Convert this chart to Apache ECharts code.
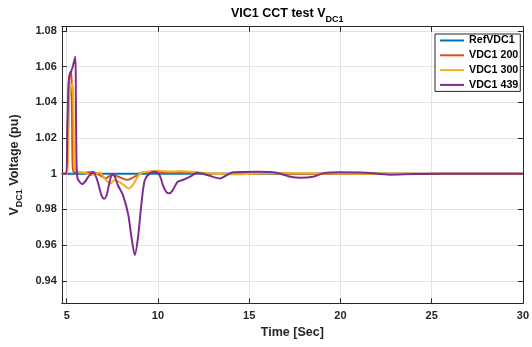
<!DOCTYPE html>
<html>
<head>
<meta charset="utf-8">
<script src="https://cdn.jsdelivr.net/npm/echarts@6/dist/echarts.min.js"></script>
<style>
  html, body { margin: 0; padding: 0; background: #fff; }
  #main { width: 532px; height: 347px; }
</style>
</head>
<body>
<div id="main"></div>
<script>
// series names, same order as the legend
const seriesNames = ["RefVDC1", "VDC1 200", "VDC1 300", "VDC1 439"];
const seriesColors = ["#0072BD", "#D95319", "#EDB120", "#7E2F8E"];

// time [s] and voltage [pu] for each trace
const tRef = [4.73, 10, 20, 30];
const vRef = [1, 1, 1, 1];

const t200 = [4.73, 5.0, 5.05, 5.12, 5.2, 5.26, 5.29, 5.32, 5.38, 5.6, 6.0, 6.4, 6.8, 7.15, 7.45, 7.8, 8.3, 8.75,
  9.1, 9.8, 10.5, 11.5, 12.5, 14, 16, 18, 20, 22, 25, 30];
const v200 = [1, 1, 1.025, 1.052, 1.057, 1.054, 1.03, 1.006, 1.001, 1.0008, 1.0006, 1.001, 0.9993, 0.9975, 0.9993,
  0.9985, 0.9966, 0.9985, 1.0006, 1.0008, 1.0006, 1.0005, 1.0002, 1.0, 1.0003, 1.0, 1.0001, 1.0, 1.0, 1.0];

const t300 = [4.73, 5.0, 5.07, 5.14, 5.22, 5.3, 5.35, 5.39, 5.44, 5.6, 6.0, 6.35, 6.8, 7.1, 7.42, 7.6, 7.87, 8.15,
  8.41, 8.68, 9.03, 9.5, 10.0, 10.6, 11.2, 12.0, 12.8, 13.5, 14.5, 15.5, 17, 19, 21, 23, 26, 30];
const v300 = [1, 1, 1.01, 1.04, 1.048, 1.05, 1.046, 1.02, 1.003, 1.001, 1.0005, 0.9993, 1.0005, 0.997, 0.9946,
  0.9963, 0.9955, 0.9935, 0.9918, 0.9946, 1.0002, 1.0012, 1.0017, 1.0012, 1.0014, 1.001, 1.0002, 0.9998, 0.9997,
  1.0002, 1.0003, 1.0002, 1.0, 1.0, 1.0, 1.0];

const t439 = [4.73, 4.97, 5.03, 5.1, 5.16, 5.3, 5.47, 5.5, 5.53, 5.58, 5.7, 5.84, 6.0, 6.2, 6.45, 6.7, 6.9, 7.06,
  7.2, 7.33, 7.51, 7.65, 7.8, 8.1, 8.37, 8.55, 8.73, 8.91, 9.1, 9.28, 9.55, 9.82, 10.09, 10.27, 10.45, 10.63,
  10.81, 11.08, 11.43, 11.79, 12.15, 12.7, 13.42, 13.78, 14.14, 15.4, 16.5, 17.2, 17.8, 18.5, 19.05, 19.95,
  21.4, 22.7, 24, 25.5, 30];
const v439 = [1, 1, 1.025, 1.05, 1.055, 1.059, 1.0655, 1.045, 1.01, 0.998, 0.9955, 0.9942, 0.9955, 0.9985,
  1.0008, 0.9955, 0.988, 0.986, 0.9885, 0.9946, 0.9998, 0.998, 0.9937, 0.9875, 0.9771, 0.9643, 0.9545, 0.9647,
  0.9838, 0.9965, 1.0002, 1.0011, 0.9992, 0.9936, 0.9899, 0.989, 0.9908, 0.9955, 0.9968, 0.9985, 1.0006,
  0.9993, 0.9974, 0.9993, 1.0008, 1.0011, 1.0006, 0.9985, 0.9977, 0.9983, 1.0002, 1.0008, 1.0006, 0.9995,
  0.9998, 1.0, 1.0];

// tick positions
const xTicks = [5, 10, 15, 20, 25, 30];
const yTicks = [0.94, 0.96, 0.98, 1.0, 1.02, 1.04, 1.06, 1.08];

const times = [tRef, t200, t300, t439];
const volts = [vRef, v200, v300, v439];

const ink = "#262626";
const chart = echarts.init(document.getElementById("main"));

const boxAxis = {
  axisLine: { show: true, onZero: false, lineStyle: { color: ink, width: 1 } },
  axisTick: { show: true, inside: true, length: 5, lineStyle: { color: ink } },
  axisLabel: { show: false },
  splitLine: { show: false },
};

const option = {
  animation: false,
  backgroundColor: "#fff",
  title: {
    text: "{b|VIC1 CCT test V}{s|DC1}",
    left: 226,
    top: -1,
    textStyle: {
      rich: {
        b: { fontFamily: "Liberation Sans", fontWeight: "bold", fontSize: 12.5, color: "#000", lineHeight: 20 },
        s: { fontFamily: "Liberation Sans", fontWeight: "bold", fontSize: 9, color: "#000", lineHeight: 20, verticalAlign: "bottom" },
      },
    },
  },
  legend: {
    data: seriesNames,
    orient: "vertical",
    left: 435,
    top: 34,
    icon: "rect",
    itemWidth: 24,
    itemHeight: 2,
    itemGap: 3.8,
    padding: [1, 2, 1, 5],
    backgroundColor: "#fff",
    borderColor: ink,
    borderWidth: 1,
    textStyle: { fontFamily: "Liberation Sans", fontWeight: "bold", fontSize: 10.7, color: "#000" },
  },
  grid: { left: 58.3, right: 4.7, top: 26.7, bottom: 43.7 },
  xAxis: [
    {
      type: "value",
      min: 4.73,
      max: 30,
      position: "bottom",
      name: "Time [Sec]",
      nameLocation: "middle",
      nameGap: 22,
      nameTextStyle: { fontFamily: "Liberation Sans", fontWeight: "bold", fontSize: 12.5, color: ink },
      axisLine: { show: true, onZero: false, lineStyle: { color: ink, width: 1 } },
      axisTick: { show: true, inside: true, length: 5, customValues: xTicks, lineStyle: { color: ink } },
      axisLabel: {
        customValues: xTicks,
        margin: 7,
        fontFamily: "Liberation Sans",
        fontWeight: "bold",
        fontSize: 11,
        color: ink,
      },
      splitLine: { show: true, lineStyle: { color: "#e3e3e3", width: 1 } },
    },
    Object.assign({ type: "value", min: 4.73, max: 30, position: "top" }, boxAxis,
      { axisTick: { show: true, inside: true, length: 5, customValues: xTicks, lineStyle: { color: ink } } }),
  ],
  yAxis: [
    {
      type: "value",
      min: 0.9274,
      max: 1.0824,
      position: "left",
      name: "{b|V}{s|DC1}{b| Voltage (pu)}",
      nameLocation: "middle",
      nameGap: 29,
      nameTextStyle: {
        rich: {
          b: { fontFamily: "Liberation Sans", fontWeight: "bold", fontSize: 12.5, color: ink, lineHeight: 20 },
          s: { fontFamily: "Liberation Sans", fontWeight: "bold", fontSize: 9, color: ink, lineHeight: 20, verticalAlign: "bottom" },
        },
      },
      axisLine: { show: true, onZero: false, lineStyle: { color: ink, width: 1 } },
      axisTick: { show: true, inside: true, length: 5, customValues: yTicks, lineStyle: { color: ink } },
      axisLabel: {
        customValues: yTicks,
        margin: 5,
        fontFamily: "Liberation Sans",
        fontWeight: "bold",
        fontSize: 11,
        color: ink,
        formatter: (v) => (Math.abs(v - 1) < 1e-9 ? "1" : v.toFixed(2)),
      },
      splitLine: { show: true, lineStyle: { color: "#e3e3e3", width: 1 } },
    },
    Object.assign({ type: "value", min: 0.9274, max: 1.0824, position: "right" }, boxAxis,
      { axisTick: { show: true, inside: true, length: 5, customValues: yTicks, lineStyle: { color: ink } } }),
  ],
  series: seriesNames.map((name, i) => ({
    name: name,
    type: "line",
    xAxisIndex: 0,
    yAxisIndex: 0,
    showSymbol: false,
    smooth: 0.3,
    color: seriesColors[i],
    lineStyle: { width: 2, color: seriesColors[i] },
    data: times[i].map((t, k) => [t, volts[i][k]]),
  })),
};

chart.setOption(option);
</script>
</body>
</html>
